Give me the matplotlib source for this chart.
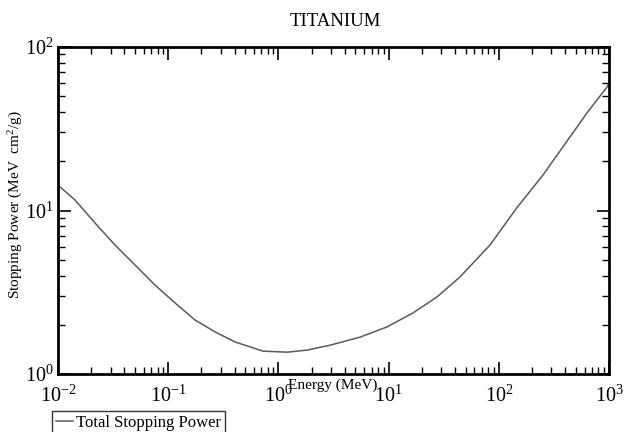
import matplotlib
matplotlib.use("Agg")
import math
import matplotlib.pyplot as plt
from matplotlib.ticker import LogLocator, FuncFormatter, NullFormatter

plt.rcParams['font.family'] = ['Liberation Serif', 'DejaVu Serif']
plt.rcParams['mathtext.fontset'] = 'custom'
plt.rcParams['mathtext.rm'] = 'Liberation Serif'
plt.rcParams['mathtext.it'] = 'Liberation Serif:italic'

energy = [0.01, 0.01426, 0.02166, 0.0329, 0.0500, 0.0759, 0.1153, 0.175, 0.266,
          0.404, 0.725, 1.20, 1.82, 2.94, 5.50, 9.66, 16.6, 27.5, 44.4, 83.2,
          146, 252, 443, 631, 959, 1000]
stopping = [14.3, 11.6, 8.39, 6.15, 4.64, 3.50, 2.72, 2.14, 1.81,
            1.57, 1.38, 1.36, 1.40, 1.50, 1.68, 1.94, 2.36, 2.96, 3.92, 6.15,
            10.4, 16.5, 28.2, 39.5, 56.9, 60.3]

fig = plt.figure(figsize=(6.25, 4.32), dpi=100)
ax = fig.add_axes([58/625, 1-374/432, (609-58)/625, (374-47)/432])

line, = ax.plot(energy, stopping, color='#5a5a5a', lw=1.1, label='Total Stopping Power')
ax.set_xscale('log')
ax.set_yscale('log')
ax.set_xlim(1e-2, 1e3)
ax.set_ylim(1, 100)

def fmt(v, pos):
    e = int(round(math.log10(v)))
    return r'$\mathregular{10^{%d}}$' % e

ax.xaxis.set_major_locator(LogLocator(base=10, numticks=10))
ax.yaxis.set_major_locator(LogLocator(base=10, numticks=10))
ax.xaxis.set_minor_locator(LogLocator(base=10, subs=range(2, 10), numticks=20))
ax.yaxis.set_minor_locator(LogLocator(base=10, subs=range(2, 10), numticks=20))
ax.xaxis.set_major_formatter(FuncFormatter(fmt))
ax.yaxis.set_major_formatter(FuncFormatter(fmt))
ax.xaxis.set_minor_formatter(NullFormatter())
ax.yaxis.set_minor_formatter(NullFormatter())

ax.tick_params(which='both', direction='in', top=True, right=True, colors='black')
ax.tick_params(which='major', length=9, width=1.2, labelsize=14.5)
ax.tick_params(which='minor', length=5, width=1.0)
ax.tick_params(axis='x', which='major', pad=8)
ax.tick_params(axis='y', which='major', pad=3)

for s in ax.spines.values():
    s.set_linewidth(2.0)
    s.set_color('black')

ax.set_ylabel(r'Stopping Power (MeV  cm$^{2}$/g)', fontsize=11)
ax.yaxis.set_label_coords(-0.06, 0.517)
fig.text(333/625, 1-385/432, 'Energy (MeV)', ha='center', va='center', fontsize=11)
fig.text(335/625, 1-22/432, 'TITANIUM', ha='center', va='center', fontsize=13.5)

leg = fig.legend(handles=[line], loc='upper left',
                 bbox_to_anchor=(52/625, 1-411/432), fontsize=12,
                 frameon=True, fancybox=False, edgecolor='black',
                 handlelength=1.0, handletextpad=0.2, borderpad=0.25,
                 borderaxespad=0)
leg.get_frame().set_linewidth(1.0)

fig.savefig('out.png', dpi=100)
